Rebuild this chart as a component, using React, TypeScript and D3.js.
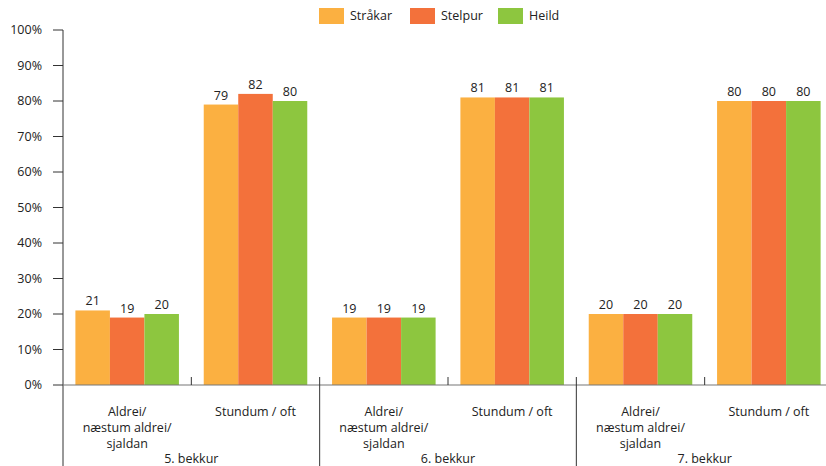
import React from "react";
import * as d3 from "d3";

const groups = ["5. bekkur", "6. bekkur", "7. bekkur"];
const answers = [["Aldrei/", "næstum aldrei/", "sjaldan"], ["Stundum / oft"]];
const series = ["Stråkar", "Stelpur", "Heild"];
const colors = ["#FBB041", "#F3713B", "#8DC63F"];
// values[group][answer][series]
const values = [
  [[21, 19, 20], [79, 82, 80]],
  [[19, 19, 19], [81, 81, 81]],
  [[20, 20, 20], [80, 80, 80]],
];
const yTicks = [0, 10, 20, 30, 40, 50, 60, 70, 80, 90, 100];

const W = 826, H = 466;
const x0 = 63, x1 = 833, yTop = 30, yBot = 385;
const font = "'Open Sans', 'DejaVu Sans', sans-serif";
const txt = "#222";
const axisCol = "#333";

export default function App() {
  const y = d3.scaleLinear().domain([0, 100]).range([yBot, yTop]);
  const cats = groups.flatMap((g, gi) => answers.map((a, ai) => `${gi}-${ai}`));
  const xCat = d3.scaleBand().domain(cats).range([x0, x1]).paddingInner(0).paddingOuter(0);
  const bw = xCat.bandwidth();
  const xS = d3.scaleBand().domain(series).range([12.4, bw - 12.4]).paddingOuter(0).paddingInner(0);

  return (
    <svg width={W} height={H} style={{ position: "absolute", left: 0, top: 0 }} fontFamily={font}>
      {/* legend */}
      {series.map((s, i) => {
        const lx = [319, 410, 498][i];
        return (
          <g key={s}>
            <rect x={lx} y={8} width={25} height={16} fill={colors[i]} />
            <text x={lx + 31} y={16} dy="0.35em" fontSize={12.5} fill={txt}>{s}</text>
          </g>
        );
      })}
      {/* bars */}
      {groups.map((g, gi) =>
        answers.map((a, ai) =>
          series.map((s, si) => {
            const v = values[gi][ai][si];
            const bx = (xCat(`${gi}-${ai}`) as number) + (xS(s) as number);
            return (
              <g key={`${gi}-${ai}-${si}`}>
                <rect x={bx} y={y(v)} width={xS.bandwidth()} height={yBot - y(v)} fill={colors[si]} />
                <text x={bx + xS.bandwidth() / 2} y={y(v) - 5} textAnchor="middle" fontSize={12.5} fill={txt}>{v}</text>
              </g>
            );
          })
        )
      )}
      {/* y axis */}
      <line x1={x0} x2={x0} y1={yTop} y2={H} stroke={axisCol} strokeWidth={1} />
      {yTicks.map((t) => (
        <g key={t}>
          <line x1={x0 - 10} x2={x0} y1={y(t)} y2={y(t)} stroke={axisCol} />
          <text x={42} y={y(t)} dy="0.35em" textAnchor="end" fontSize={12.5} fill={txt}>{t}%</text>
        </g>
      ))}
      {/* x axis */}
      <line x1={x0} x2={x1} y1={yBot} y2={yBot} stroke="#777" strokeWidth={1.2} />
      {cats.map((c, i) => {
        const cx = (xCat(c) as number);
        if (i === 0) return null;
        const isGroup = i % 2 === 0;
        return (
          <line key={c} x1={cx} x2={cx} y1={yBot - 8} y2={isGroup ? H : yBot} stroke={axisCol} />
        );
      })}
      {/* category labels */}
      {groups.map((g, gi) =>
        answers.map((a, ai) => {
          const cx = (xCat(`${gi}-${ai}`) as number) + bw / 2;
          return (
            <text key={`${gi}-${ai}`} textAnchor="middle" fontSize={12.5} fill={txt}>
              {a.map((line, li) => (
                <tspan key={li} x={cx} y={412 + li * 15.7} dy="0.35em">{line}</tspan>
              ))}
            </text>
          );
        })
      )}
      {groups.map((g, gi) => {
        const cx = (xCat(`${gi}-0`) as number) + bw;
        return (
          <text key={g} x={cx} y={459} dy="0.35em" textAnchor="middle" fontSize={12.5} fill={txt}>{g}</text>
        );
      })}
    </svg>
  );
}
